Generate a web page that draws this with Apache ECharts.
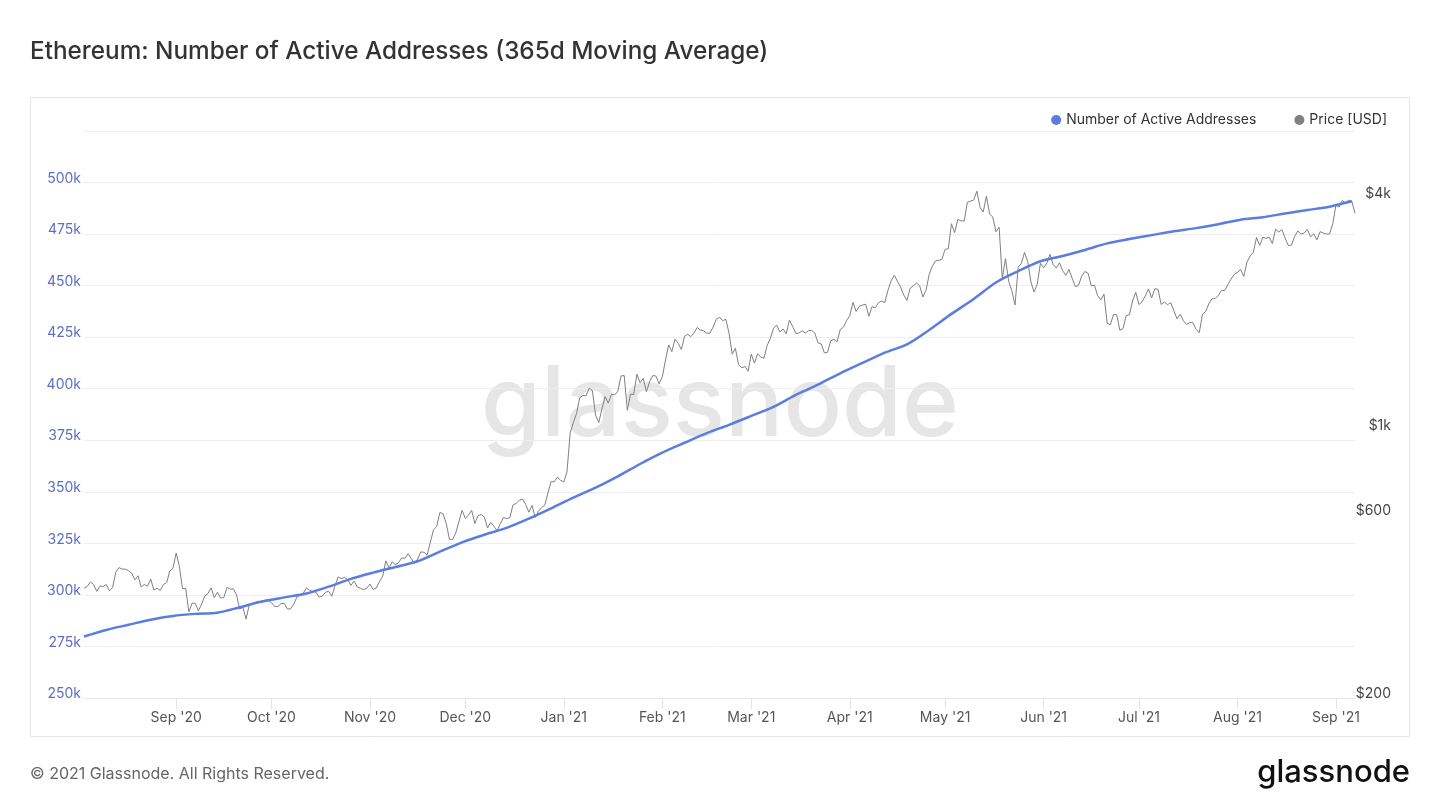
<!DOCTYPE html>
<html>
<head>
<meta charset="utf-8">
<script src="https://cdn.jsdelivr.net/npm/echarts@6/dist/echarts.min.js"></script>
<style>
  html, body { margin: 0; padding: 0; background: #ffffff; }
  #chart { width: 1440px; height: 810px; }
</style>
</head>
<body>
<div id="chart"></div>
<script>
// ---------------- DATA ----------------
const titleText = 'Ethereum: Number of Active Addresses (365d Moving Average)';
const seriesNames = ['Number of Active Addresses', 'Price [USD]'];

// x-axis range
const xStart = [2020, 7, 3];   // Aug 3 2020
const xEnd = [2021, 8, 7];     // Sep 7 2021
const monthNames = ['Jan', 'Feb', 'Mar', 'Apr', 'May', 'Jun', 'Jul', 'Aug', 'Sep', 'Oct', 'Nov', 'Dec'];

// left axis ticks (thousands of addresses) and right axis labels (USD, log scale)
const leftTicks = [250, 275, 300, 325, 350, 375, 400, 425, 450, 475, 500, 525];
const rightTicks = [200, 600, 1000, 4000];

// Active addresses (365d MA), thousands, weekly from Aug 3 2020
const activeStart = [2020, 7, 3];
const activeWeekly = [
  279.8, 283.0, 285.5, 288.0, 289.8, 290.8, 291.4, 294.0, 296.8, 298.8,
  300.7, 304.0, 307.8, 310.8, 313.5, 316.3, 321.0, 325.5, 329.2, 332.5,
  337.0, 342.0, 347.2, 352.0, 357.5, 363.5, 369.0, 373.8, 378.5, 382.5,
  386.8, 391.2, 397.0, 402.0, 407.5, 412.5, 417.5, 421.5, 428.5, 436.3,
  443.5, 451.5, 457.0, 461.8, 464.4, 467.3, 470.5, 472.6, 474.5, 476.4,
  477.9, 479.8, 482.0, 483.2, 485.0, 486.7, 488.3, 490.9
];

// ETH price (USD), daily, per month
const price2020Aug = [386, 390, 401, 395, 379, 391, 390, 395, 380, 388, 425, 437, 433, 433, 429, 423, 406, 416, 389, 395, 391, 408, 382, 386, 381, 395, 399, 428, 435]; // from Aug 3
const price2020Sep = [477, 440, 385, 386, 335, 353, 353, 337, 351, 368, 374, 387, 365, 377, 364, 365, 388, 384, 385, 371, 341, 344, 321, 349, 352, 355, 357, 354, 360, 359];
const price2020Oct = [354, 346, 346, 352, 353, 341, 341, 351, 366, 371, 375, 387, 381, 379, 377, 366, 368, 377, 379, 368, 392, 413, 409, 412, 406, 393, 403, 389, 386, 383, 386];
const price2020Nov = [396, 383, 387, 402, 415, 455, 435, 453, 444, 450, 463, 462, 475, 461, 448, 460, 480, 479, 471, 509, 548, 559, 608, 603, 569, 518, 517, 538, 575, 616];
const price2020Dec = [587, 598, 616, 569, 596, 601, 591, 554, 573, 560, 545, 568, 590, 586, 589, 636, 642, 654, 659, 638, 609, 634, 590, 612, 626, 635, 683, 731, 731, 751, 737];
const price2021Jan = [730, 775, 979, 1041, 1100, 1208, 1225, 1224, 1281, 1262, 1090, 1043, 1130, 1218, 1171, 1233, 1230, 1257, 1377, 1382, 1121, 1236, 1233, 1392, 1324, 1357, 1253, 1331, 1381, 1377, 1314];
const price2021Feb = [1370, 1515, 1660, 1594, 1718, 1677, 1614, 1748, 1768, 1744, 1783, 1843, 1813, 1806, 1780, 1781, 1848, 1937, 1960, 1919, 1935, 1781, 1570, 1626, 1475, 1446, 1459, 1417];
const price2021Mar = [1570, 1488, 1574, 1541, 1533, 1655, 1723, 1834, 1868, 1794, 1826, 1773, 1924, 1855, 1779, 1781, 1806, 1782, 1808, 1810, 1781, 1681, 1669, 1582, 1587, 1700, 1716, 1691, 1819, 1846, 1919];
const price2021Apr = [1977, 2142, 2028, 2093, 2107, 2118, 1971, 2088, 2072, 2136, 2157, 2139, 2299, 2435, 2519, 2431, 2344, 2237, 2166, 2330, 2364, 2404, 2363, 2212, 2303, 2534, 2662, 2746, 2756, 2772];
const price2021May = [2945, 2950, 3431, 3253, 3522, 3490, 3484, 3902, 3929, 3952, 4169, 3785, 3680, 4050, 3640, 3570, 3270, 3360, 2470, 2784, 2430, 2295, 2109, 2643, 2706, 2888, 2736, 2419, 2279, 2390, 2706];
const price2021Jun = [2634, 2707, 2856, 2689, 2630, 2715, 2590, 2517, 2609, 2472, 2353, 2372, 2508, 2577, 2550, 2364, 2374, 2230, 2175, 2250, 1888, 1874, 1989, 1989, 1811, 1829, 1979, 1988, 2160, 2275];
const price2021Jul = [2113, 2150, 2226, 2322, 2198, 2324, 2316, 2115, 2146, 2111, 2139, 2036, 1941, 1994, 1918, 1877, 1898, 1895, 1820, 1787, 1995, 2025, 2124, 2188, 2191, 2233, 2300, 2299, 2382, 2462, 2536];
const price2021Aug = [2561, 2610, 2502, 2725, 2827, 2890, 3158, 3012, 3163, 3143, 3164, 3046, 3322, 3265, 3310, 3148, 3012, 3018, 3181, 3286, 3225, 3243, 3319, 3173, 3227, 3115, 3271, 3244, 3226, 3227, 3433];
const price2021Sep = [3834, 3790, 3941, 3890, 3952, 3927, 3650];

const priceMonths = [
  [2020, 7, 3, price2020Aug], [2020, 8, 1, price2020Sep], [2020, 9, 1, price2020Oct],
  [2020, 10, 1, price2020Nov], [2020, 11, 1, price2020Dec], [2021, 0, 1, price2021Jan],
  [2021, 1, 1, price2021Feb], [2021, 2, 1, price2021Mar], [2021, 3, 1, price2021Apr],
  [2021, 4, 1, price2021May], [2021, 5, 1, price2021Jun], [2021, 6, 1, price2021Jul],
  [2021, 7, 1, price2021Aug], [2021, 8, 1, price2021Sep]
];

// ---------------- BUILD ----------------
const DAY = 86400000;
const priceData = [];
priceMonths.forEach(([y, m, d0, arr]) => {
  arr.forEach((v, i) => priceData.push([Date.UTC(y, m, d0 + i), v]));
});
const activeData = activeWeekly.map((v, i) =>
  [Date.UTC(activeStart[0], activeStart[1], activeStart[2] + i * 7), v * 1000]);

const FONT = 'Inter, "Noto Sans", sans-serif';
const BLUE = '#5b7ce0';
const GREY = '#808080';

function monthLabel(v) {
  const d = new Date(v);
  if (d.getUTCDate() !== 1) return '';
  return monthNames[d.getUTCMonth()] + " '" + String(d.getUTCFullYear()).slice(2);
}
function priceLabel(v) {
  const r = Math.round(v);
  return '{t|' + (r >= 1000 ? '$' + (r / 1000) + 'k' : '$' + r) + '}';
}

function buildOption(useCustomRight) {
  const rightLabel = {
    align: 'right', margin: 36, fontSize: 14, color: '#444444', fontFamily: FONT,
    verticalAlign: 'middle',
    rich: { t: { fontSize: 14, color: '#444444', fontFamily: FONT, padding: [0, 0, 8, 0] } },
    formatter: priceLabel
  };
  if (useCustomRight) rightLabel.customValues = rightTicks;
  return {
    animation: false,
    backgroundColor: '#ffffff',
    textStyle: { fontFamily: FONT },
    graphic: [
      { type: 'rect', z: -10, silent: true,
        shape: { x: 30.5, y: 97.5, width: 1379, height: 639 },
        style: { fill: '#ffffff', stroke: '#e4e4e4', lineWidth: 1 } },
      { type: 'text', z: -5, silent: true,
        style: { x: 720, y: 407, text: 'glassnode', textAlign: 'center', textVerticalAlign: 'middle',
                 font: '500 97px ' + FONT, fill: '#e6e6e6' } },
      { type: 'text', silent: true,
        style: { x: 30, y: 52, text: titleText, textAlign: 'left', textVerticalAlign: 'middle',
                 font: '500 24.3px ' + FONT, fill: '#333333' } },
      { type: 'text', silent: true,
        style: { x: 30, y: 774, text: '\u00A9 2021 Glassnode. All Rights Reserved.', textAlign: 'left', textVerticalAlign: 'middle',
                 font: '400 16px ' + FONT, fill: '#666666' } },
      { type: 'text', silent: true,
        style: { x: 1410, y: 773, text: 'glassnode', textAlign: 'right', textVerticalAlign: 'middle',
                 font: '500 31px ' + FONT, fill: '#111111' } }
    ],
    legend: {
      right: 53, top: 113, padding: 0,
      icon: 'circle', itemWidth: 10, itemHeight: 10, itemGap: 38,
      textStyle: { fontSize: 14, color: '#333333', fontFamily: FONT },
      data: [
        { name: seriesNames[0], itemStyle: { color: BLUE } },
        { name: seriesNames[1], itemStyle: { color: GREY } }
      ]
    },
    grid: { left: 84, right: 85, top: 131, bottom: 112, containLabel: false },
    xAxis: {
      type: 'time',
      min: Date.UTC(xStart[0], xStart[1], xStart[2]),
      max: Date.UTC(xEnd[0], xEnd[1], xEnd[2]),
      minInterval: 28 * DAY, maxInterval: 31 * DAY,
      axisLine: { show: true, lineStyle: { color: '#e8e8e8' } },
      axisTick: { show: true, length: 11, lineStyle: { color: '#e4e4e4' } },
      splitLine: { show: false },
      axisLabel: {
        showMinLabel: false, showMaxLabel: false, hideOverlap: false,
        margin: 13, fontSize: 14, color: '#555555', fontFamily: FONT,
        formatter: monthLabel
      }
    },
    yAxis: [
      {
        type: 'value',
        min: leftTicks[0] * 1000, max: leftTicks[leftTicks.length - 1] * 1000,
        interval: (leftTicks[1] - leftTicks[0]) * 1000,
        position: 'left',
        axisLine: { show: false }, axisTick: { show: false },
        splitLine: { show: true, lineStyle: { color: '#eeeeee', width: 1 } },
        axisLabel: {
          showMaxLabel: false, margin: 3, fontSize: 14, color: '#5d6ec4', fontFamily: FONT,
          verticalAlign: 'middle',
          rich: { t: { fontSize: 14, color: '#5d6ec4', fontFamily: FONT, padding: [0, 0, 8, 0] } },
          formatter: (v) => '{t|' + (v / 1000) + 'k}'
        }
      },
      {
        type: 'log', logBase: 10, min: 200, max: 5980,
        position: 'right',
        axisLine: { show: false }, axisTick: { show: false },
        splitLine: { show: false },
        axisLabel: rightLabel
      }
    ],
    series: [
      {
        name: seriesNames[1], type: 'line', yAxisIndex: 1, data: priceData,
        showSymbol: false, symbol: 'none', z: 2,
        itemStyle: { color: GREY },
        lineStyle: { color: GREY, width: 1 }
      },
      {
        name: seriesNames[0], type: 'line', yAxisIndex: 0, data: activeData,
        showSymbol: false, symbol: 'none', smooth: 0.3, z: 3,
        itemStyle: { color: BLUE },
        lineStyle: { color: BLUE, width: 2.5 }
      }
    ]
  };
}

let chart = echarts.init(document.getElementById('chart'), null, { renderer: 'canvas' });
try {
  chart.setOption(buildOption(true));
} catch (e) {
  console.log('fallback: ' + e.message);
  chart.dispose();
  chart = echarts.init(document.getElementById('chart'), null, { renderer: 'canvas' });
  chart.setOption(buildOption(false));
}
</script>
</body>
</html>
